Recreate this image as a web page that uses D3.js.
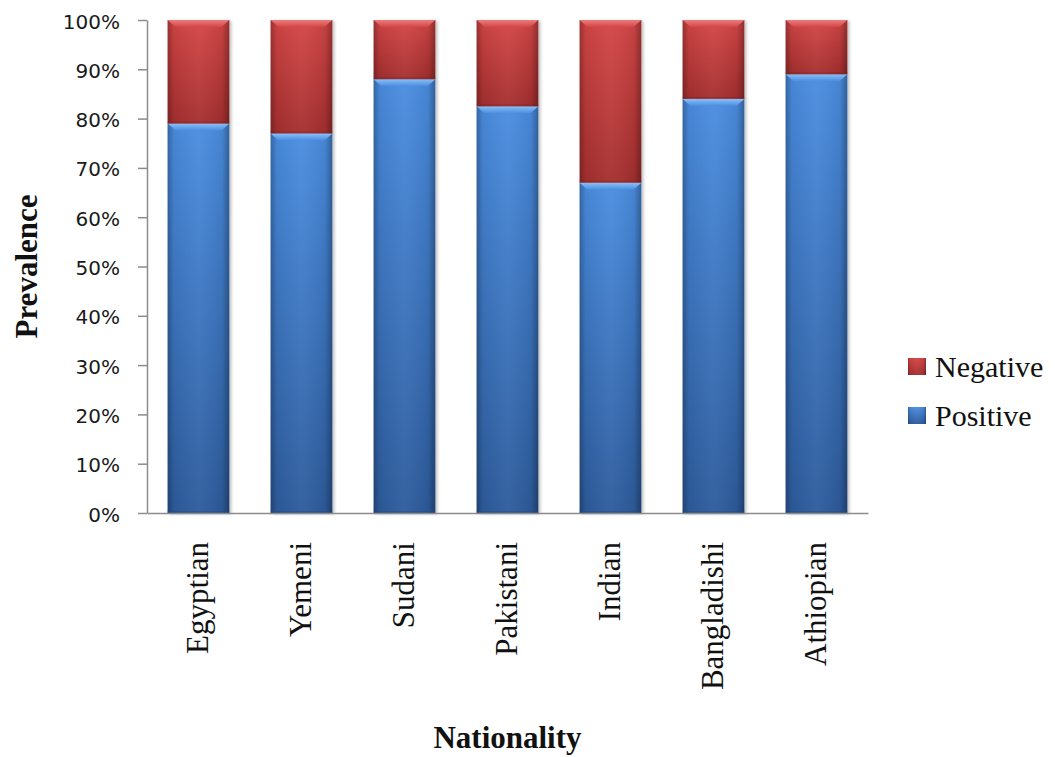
<!DOCTYPE html>
<html>
<head>
<meta charset="utf-8">
<script src="https://cdn.jsdelivr.net/npm/d3@7"></script>
<style>
  html, body { margin: 0; padding: 0; background: #fff; }
  svg { display: block; }
</style>
</head>
<body>
<svg id="chart" width="1055" height="757"></svg>
<script>
// ---- data ----
const categories = ["Egyptian", "Yemeni", "Sudani", "Pakistani", "Indian", "Bangladishi", "Athiopian"];
const positive = [79, 77, 88, 82.5, 67, 84, 89];
const negative = [21, 23, 12, 17.5, 33, 16, 11];
const seriesNames = ["Positive", "Negative"];
const yTicks = [0, 10, 20, 30, 40, 50, 60, 70, 80, 90, 100];
const legendOrder = ["Negative", "Positive"];

// ---- layout ----
const plotL = 147, plotR = 868, plotT = 20, plotB = 513;
const svg = d3.select("#chart");

const x = d3.scaleBand().domain(categories).range([plotL, plotR]).paddingInner(0.4).paddingOuter(0.2);
const y = d3.scaleLinear().domain([0, 100]).range([plotB, plotT]);

const colors = {
  Positive: { top: "#4a8de0", bottom: "#2d5b9c", bevel: "#8cc0f6", edge: "#24497e" },
  Negative: { top: "#d44646", bottom: "#a52f2f", bevel: "#ec7c7c", edge: "#7c2222" }
};

const defs = svg.append("defs");
seriesNames.forEach(s => {
  const g = defs.append("linearGradient").attr("id", "v-" + s).attr("x1", 0).attr("y1", 0).attr("x2", 0).attr("y2", 1);
  g.append("stop").attr("offset", "0%").attr("stop-color", colors[s].top);
  g.append("stop").attr("offset", "100%").attr("stop-color", colors[s].bottom);
  const b = defs.append("linearGradient").attr("id", "b-" + s).attr("x1", 0).attr("y1", 0).attr("x2", 0).attr("y2", 1);
  b.append("stop").attr("offset", "0%").attr("stop-color", colors[s].bevel);
  b.append("stop").attr("offset", "100%").attr("stop-color", colors[s].top);
});
const hg = defs.append("linearGradient").attr("id", "hedge").attr("x1", 0).attr("y1", 0).attr("x2", 1).attr("y2", 0);
hg.append("stop").attr("offset", "0%").attr("stop-color", "#000").attr("stop-opacity", 0.28);
hg.append("stop").attr("offset", "10%").attr("stop-color", "#000").attr("stop-opacity", 0.05);
hg.append("stop").attr("offset", "50%").attr("stop-color", "#fff").attr("stop-opacity", 0.04);
hg.append("stop").attr("offset", "88%").attr("stop-color", "#000").attr("stop-opacity", 0.06);
hg.append("stop").attr("offset", "100%").attr("stop-color", "#000").attr("stop-opacity", 0.32);
const f = defs.append("filter").attr("id", "shadow").attr("x", "-10%").attr("y", "-5%").attr("width", "130%").attr("height", "115%");
f.append("feDropShadow").attr("dx", 2).attr("dy", 1).attr("stdDeviation", 1.5).attr("flood-color", "#000").attr("flood-opacity", 0.25);

// ---- stacked data ----
const rows = categories.map((c, i) => ({ cat: c, Positive: positive[i], Negative: negative[i] }));
const stack = d3.stack().keys(seriesNames)(rows);

const barsG = svg.append("g");
const bw = x.bandwidth();
barsG.selectAll("rect.sh").data(rows).join("rect")
  .attr("x", d => x(d.cat)).attr("width", bw)
  .attr("y", d => y(d.Positive + d.Negative)).attr("height", d => y(0) - y(d.Positive + d.Negative))
  .attr("fill", "#fff").attr("filter", "url(#shadow)");

stack.forEach(layer => {
  const s = layer.key;
  const g = barsG.append("g");
  g.selectAll("rect.main").data(layer).join("rect")
    .attr("x", d => x(d.data.cat)).attr("width", bw)
    .attr("y", d => y(d[1])).attr("height", d => y(d[0]) - y(d[1]))
    .attr("fill", "url(#v-" + s + ")");
  g.selectAll("rect.edge").data(layer).join("rect")
    .attr("x", d => x(d.data.cat)).attr("width", bw)
    .attr("y", d => y(d[1])).attr("height", d => y(d[0]) - y(d[1]))
    .attr("fill", "url(#hedge)");
  const bv = 7, inset = 8;
  g.selectAll("path.bevel").data(layer).join("path")
    .attr("d", d => {
      const x0 = x(d.data.cat), x1 = x0 + bw, y0 = y(d[1]);
      return `M${x0},${y0}L${x1},${y0}L${x1 - inset},${y0 + bv}L${x0 + inset},${y0 + bv}Z`;
    })
    .attr("fill", "url(#b-" + s + ")");
  g.selectAll("rect.bl").data(layer).join("rect")
    .attr("x", d => x(d.data.cat)).attr("width", bw)
    .attr("y", d => y(d[0]) - 2).attr("height", 2)
    .attr("fill", colors[s].edge).attr("opacity", 0.35);
});

// ---- axes ----
const yAxis = d3.axisLeft(y).tickValues(yTicks).tickFormat(d => d + "%").tickSize(9).tickPadding(18).tickSizeOuter(0);
const yg = svg.append("g").attr("transform", `translate(${plotL},0)`).call(yAxis);
yg.select(".domain").attr("stroke", "#8c8c8c").attr("stroke-width", 1.5);
yg.selectAll(".tick line").attr("stroke", "#8c8c8c").attr("stroke-width", 1.5);
yg.selectAll(".tick text").attr("font-family", "'DejaVu Sans', Verdana, sans-serif").attr("font-size", 20).attr("fill", "#1a1a1a").attr("dy", "0.4em");

const xAxis = d3.axisBottom(x).tickSize(0).tickSizeOuter(0).tickPadding(0);
const xg = svg.append("g").attr("transform", `translate(0,${plotB})`).call(xAxis);
xg.select(".domain").attr("stroke", "#8c8c8c").attr("stroke-width", 1.5);
xg.selectAll(".tick text")
  .attr("font-family", "'Liberation Serif', 'Times New Roman', serif").attr("font-size", 31).attr("fill", "#111")
  .attr("text-anchor", "end").attr("transform", "rotate(-90)")
  .attr("x", -29).attr("y", 0).attr("dy", "0.3em");

// ---- titles ----
svg.append("text").attr("x", (plotL + plotR) / 2).attr("y", 748).attr("text-anchor", "middle")
  .attr("font-family", "'Liberation Serif', 'Times New Roman', serif").attr("font-weight", "bold").attr("font-size", 31)
  .attr("fill", "#111").text("Nationality");
svg.append("text").attr("transform", `translate(37,${(plotT + plotB) / 2}) rotate(-90)`).attr("text-anchor", "middle")
  .attr("font-family", "'Liberation Serif', 'Times New Roman', serif").attr("font-weight", "bold").attr("font-size", 31)
  .attr("fill", "#111").text("Prevalence");

// ---- legend ----
const lg = svg.append("g").attr("transform", "translate(908,358)");
const li = lg.selectAll("g").data(legendOrder).join("g").attr("transform", (d, i) => `translate(0,${i * 49})`);
li.append("rect").attr("width", 18).attr("height", 17).attr("fill", d => "url(#v-" + d + ")");
li.append("rect").attr("width", 18).attr("height", 17).attr("fill", "url(#hedge)");
li.append("text").attr("x", 27).attr("y", 19)
  .attr("font-family", "'Liberation Serif', 'Times New Roman', serif").attr("font-size", 30).attr("fill", "#111")
  .text(d => d);
</script>
</body>
</html>
